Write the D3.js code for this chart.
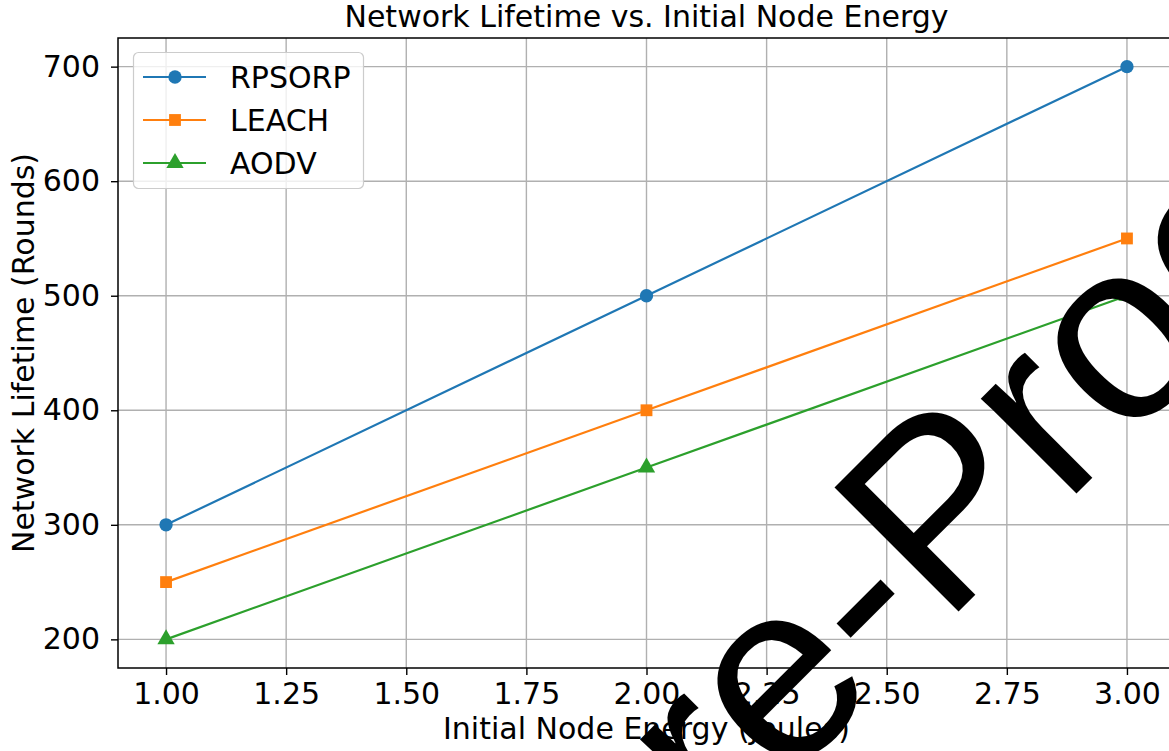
<!DOCTYPE html>
<html>
<head>
<meta charset="utf-8">
<script src="https://cdn.jsdelivr.net/npm/d3@7"></script>
<style>
  body { margin: 0; background: #fff; }
  svg text { font-family: "DejaVu Sans", sans-serif; fill: #000; }
</style>
</head>
<body>
<svg id="chart" width="1169" height="751"></svg>
<script>

// data
var energy = [1.0, 2.0, 3.0]
var seriesNames = ['RPSORP', 'LEACH', 'AODV']
var rpsorp = [300, 500, 700]
var leach = [250, 400, 550]
var aodv = [200, 350, 500]
var xTicks = [1.0, 1.25, 1.5, 1.75, 2.0, 2.25, 2.5, 2.75, 3.0]
var yTicks = [200, 300, 400, 500, 600, 700]

var colors = ['#1f77b4', '#ff7f0e', '#2ca02c']
var markers = [d3.symbolCircle, d3.symbolSquare, d3.symbolTriangle]
var markerSizes = [140, 140, 130]

var svg = d3.select('#chart')

var plotLeft = 118, plotRight = 1175, plotTop = 38, plotBottom = 668

var x = d3.scaleLinear().domain([0.9, 3.1]).range([plotLeft, plotRight])
var y = d3.scaleLinear().domain([175, 725]).range([plotBottom, plotTop])

var allSeries = [rpsorp, leach, aodv]

// grid
svg.append('g')
	.selectAll('line')
	.data(xTicks)
	.enter()
	.append('line')
	.attr('x1', function(d) { return x(d); })
	.attr('x2', function(d) { return x(d); })
	.attr('y1', plotTop)
	.attr('y2', plotBottom)
	.attr('stroke', '#b0b0b0')
	.attr('stroke-width', 1.4)

svg.append('g')
	.selectAll('line')
	.data(yTicks)
	.enter()
	.append('line')
	.attr('x1', plotLeft)
	.attr('x2', plotRight)
	.attr('y1', function(d) { return y(d); })
	.attr('y2', function(d) { return y(d); })
	.attr('stroke', '#b0b0b0')
	.attr('stroke-width', 1.4)

// axes
var xAxis = d3.axisBottom(x).tickValues(xTicks).tickFormat(d3.format('.2f')).tickSize(7).tickPadding(8)
var yAxis = d3.axisLeft(y).tickValues(yTicks).tickFormat(d3.format('d')).tickSize(7).tickPadding(11)

var gx = svg.append('g').attr('transform', 'translate(0,' + plotBottom + ')').call(xAxis)
var gy = svg.append('g').attr('transform', 'translate(' + plotLeft + ',0)').call(yAxis)

gx.select('.domain').remove()
gy.select('.domain').remove()

svg.selectAll('.tick line').attr('stroke', '#000').attr('stroke-width', 1.4)
svg.selectAll('.tick text')
	.style('font-family', '"DejaVu Sans", sans-serif')
	.style('font-size', '30px')
	.attr('fill', '#000')

// spines
svg.append('rect')
	.attr('x', plotLeft)
	.attr('y', plotTop)
	.attr('width', plotRight - plotLeft)
	.attr('height', plotBottom - plotTop)
	.attr('fill', 'none')
	.attr('stroke', '#000')
	.attr('stroke-width', 1.5)

// lines and markers
var line = d3.line()
	.x(function(d, i) { return x(energy[i]); })
	.y(function(d) { return y(d); })

for (i = 0; i < allSeries.length; i++) {
	svg.append('path')
		.datum(allSeries[i])
		.attr('d', line)
		.attr('fill', 'none')
		.attr('stroke', colors[i])
		.attr('stroke-width', 2.2)

	svg.append('g')
		.selectAll('path')
		.data(allSeries[i])
		.enter()
		.append('path')
		.attr('d', d3.symbol().type(markers[i]).size(markerSizes[i]))
		.attr('transform', function(d, j) { return 'translate(' + x(energy[j]) + ',' + y(d) + ')'; })
		.attr('fill', colors[i])
}

// legend
var legend = svg.append('g')

legend.append('rect')
	.attr('x', 133.5)
	.attr('y', 52.5)
	.attr('width', 230)
	.attr('height', 136)
	.attr('rx', 5)
	.attr('fill', 'rgba(255,255,255,0.8)')
	.attr('stroke', '#cccccc')
	.attr('stroke-width', 1.2)

for (i = 0; i < seriesNames.length; i++) {
	var ly = 77 + i * 43
	legend.append('line')
		.attr('x1', 143)
		.attr('x2', 206)
		.attr('y1', ly)
		.attr('y2', ly)
		.attr('stroke', colors[i])
		.attr('stroke-width', 2.2)
	legend.append('path')
		.attr('d', d3.symbol().type(markers[i]).size(markerSizes[i]))
		.attr('transform', 'translate(175,' + ly + ')')
		.attr('fill', colors[i])
	legend.append('text')
		.attr('x', 230)
		.attr('y', ly + 11)
		.style('font-size', '30px')
		.text(seriesNames[i])
}

// title and axis labels
svg.append('text')
	.attr('x', (plotLeft + plotRight) / 2)
	.attr('y', 27)
	.attr('text-anchor', 'middle')
	.style('font-size', '30px')
	.text('Network Lifetime vs. Initial Node Energy')

svg.append('text')
	.attr('x', (plotLeft + plotRight) / 2)
	.attr('y', 739)
	.attr('text-anchor', 'middle')
	.style('font-size', '30px')
	.text('Initial Node Energy (Joules)')

svg.append('text')
	.attr('transform', 'translate(34,' + (plotTop + plotBottom) / 2 + ') rotate(-90)')
	.attr('text-anchor', 'middle')
	.style('font-size', '30px')
	.text('Network Lifetime (Rounds)')

// stamp across the picture
svg.append('text')
	.attr('transform', 'translate(603,967) rotate(-45)')
	.style('font-family', '"Liberation Sans", Arial, sans-serif')
	.style('font-size', '255px')
	.attr('fill', '#000')
	.text('Pre-Proof')

</script>
</body>
</html>
